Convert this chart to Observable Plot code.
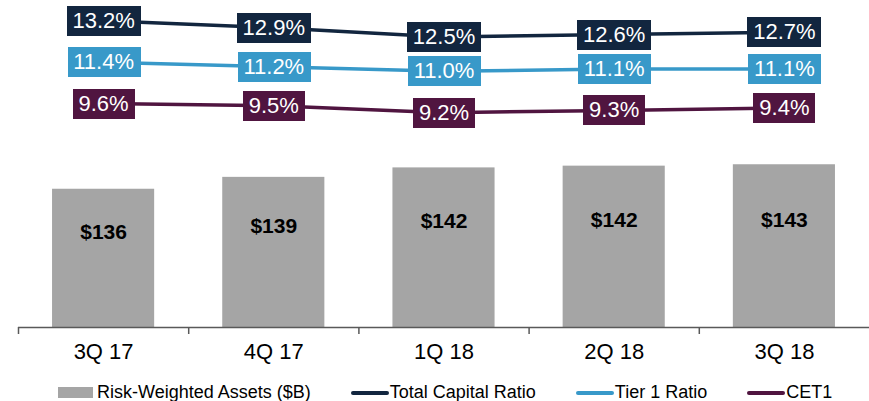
<!DOCTYPE html>
<html>
<head>
<meta charset="utf-8">
<script src="https://cdn.jsdelivr.net/npm/d3@7"></script>
<script src="https://cdn.jsdelivr.net/npm/@observablehq/plot@0.6"></script>
<style>
  html, body { margin: 0; padding: 0; background: #fff; }
  #chart { position: relative; width: 869px; height: 401px; overflow: hidden; font-family: "Liberation Sans", Arial, sans-serif; }
  #chart svg { position: absolute; left: 0; top: 0; background: transparent; }
  .legend { position: absolute; left: 58px; top: 382px; display: flex; align-items: center; font-size: 18px; color: #000; white-space: nowrap; }
  .legend .item { display: flex; align-items: center; }
  .legend .item + .item { margin-left: 40px; }
  .legend .box { width: 35px; height: 11px; margin-right: 4px; }
  .legend .ln { width: 38px; height: 4px; border-radius: 2px; margin-right: 1px; }
</style>
</head>
<body>
<div id="chart"></div>
<script>
// ---- data ----
const quarters = ["3Q 17", "4Q 17", "1Q 18", "2Q 18", "3Q 18"];
const rwa = [136.0, 139.4, 142.1, 142.6, 143.0];
const rwaLabels = ["$136", "$139", "$142", "$142", "$143"];
const totalCapital = [13.2, 12.9, 12.5, 12.6, 12.7];
const tier1 = [11.4, 11.2, 11.0, 11.1, 11.1];
const cet1 = [9.6, 9.5, 9.2, 9.3, 9.4];
const seriesNames = ["Risk-Weighted Assets ($B)", "Total Capital Ratio", "Tier 1 Ratio", "CET1"];

// ---- styles ----
const FONT = "'Liberation Sans', Arial, sans-serif";
const GRAY = "#a5a5a5";
const NAVY = "#12263f";
const BLUE = "#3899c9";
const PURPLE = "#501540";
const AXIS = "#595959";

const idx = quarters.map((_, i) => i);
const yMin = 96.5;

const bars = Plot.plot({
  width: 869, height: 372,
  marginLeft: 18, marginRight: 0, marginTop: 164.25, marginBottom: 45,
  x: { type: "linear", domain: [-0.5, 4.5], axis: null },
  y: { domain: [yMin, 143], axis: null },
  style: { fontFamily: FONT, background: "transparent", overflow: "visible" },
  marks: [
    Plot.rectY(idx, { x1: i => i - 0.3, x2: i => i + 0.3, y1: yMin, y2: i => rwa[i], fill: GRAY }),
    Plot.ruleY([yMin], { stroke: AXIS, strokeWidth: 1.5 }),
    Plot.axisX({ ticks: [-0.5, 0.5, 1.5, 2.5, 3.5], tickSize: 7, tickFormat: () => "", stroke: AXIS, strokeWidth: 1.5, strokeOpacity: 1 }),
    Plot.axisX({ ticks: idx, tickSize: 0, tickPadding: 16, tickFormat: i => quarters[i], fontSize: 22, fill: "#000" }),
    Plot.text(idx, { x: i => i, y: i => (rwa[i] + 111.4) / 2, text: i => rwaLabels[i], fontSize: 21, fontWeight: "bold", fill: "#000" })
  ]
});

const seriesList = [[totalCapital, NAVY], [tier1, BLUE], [cet1, PURPLE]];
const lines = Plot.plot({
  width: 869, height: 372,
  marginLeft: 18, marginRight: 0, marginTop: 0, marginBottom: 0,
  x: { type: "linear", domain: [-0.5, 4.5], axis: null },
  y: { domain: [9.6, 13.2], range: [103, 20.3], axis: null },
  style: { fontFamily: FONT, background: "transparent", overflow: "visible" },
  marks: [
    ...seriesList.map(([s, c]) => Plot.line(s, { x: (d, i) => i, y: d => d, stroke: c, strokeWidth: 3.5 })),
    ...seriesList.map(([s, c]) => Plot.text(s, { x: (d, i) => i, y: d => d, text: d => d.toFixed(1) + "%", fill: "#fff", fontSize: 22 }))
  ]
});

const chart = document.getElementById("chart");
chart.appendChild(bars);
chart.appendChild(lines);

// label boxes behind percentage labels (separate layer, no inherited styles)
const NS = "http://www.w3.org/2000/svg";
const textGroups = Array.from(lines.querySelectorAll('g[aria-label="text"]'));
textGroups.forEach((g, gi) => {
  const color = seriesList[gi][1];
  const layer = document.createElementNS(NS, "g");
  if (g.getAttribute("transform")) layer.setAttribute("transform", g.getAttribute("transform"));
  g.querySelectorAll("text").forEach(t => {
    const bb = t.getBBox();
    const r = document.createElementNS(NS, "rect");
    const cy = bb.y + bb.height / 2;
    r.setAttribute("x", Math.round(bb.x - 6));
    r.setAttribute("y", Math.round(cy - 15));
    r.setAttribute("width", Math.round(bb.width + 12));
    r.setAttribute("height", 30);
    r.setAttribute("fill", color);
    r.setAttribute("stroke", "none");
    r.setAttribute("shape-rendering", "crispEdges");
    if (t.getAttribute("transform")) r.setAttribute("transform", t.getAttribute("transform"));
    layer.appendChild(r);
  });
  g.parentNode.insertBefore(layer, g);
});

// legend
const legend = document.createElement("div");
legend.className = "legend";
const swatches = [["box", GRAY], ["ln", NAVY], ["ln", BLUE], ["ln", PURPLE]];
seriesNames.forEach((name, i) => {
  const item = document.createElement("div");
  item.className = "item";
  const sw = document.createElement("div");
  sw.className = swatches[i][0];
  sw.style.background = swatches[i][1];
  const lab = document.createElement("span");
  lab.textContent = name;
  item.appendChild(sw);
  item.appendChild(lab);
  legend.appendChild(item);
});
chart.appendChild(legend);
</script>
</body>
</html>
